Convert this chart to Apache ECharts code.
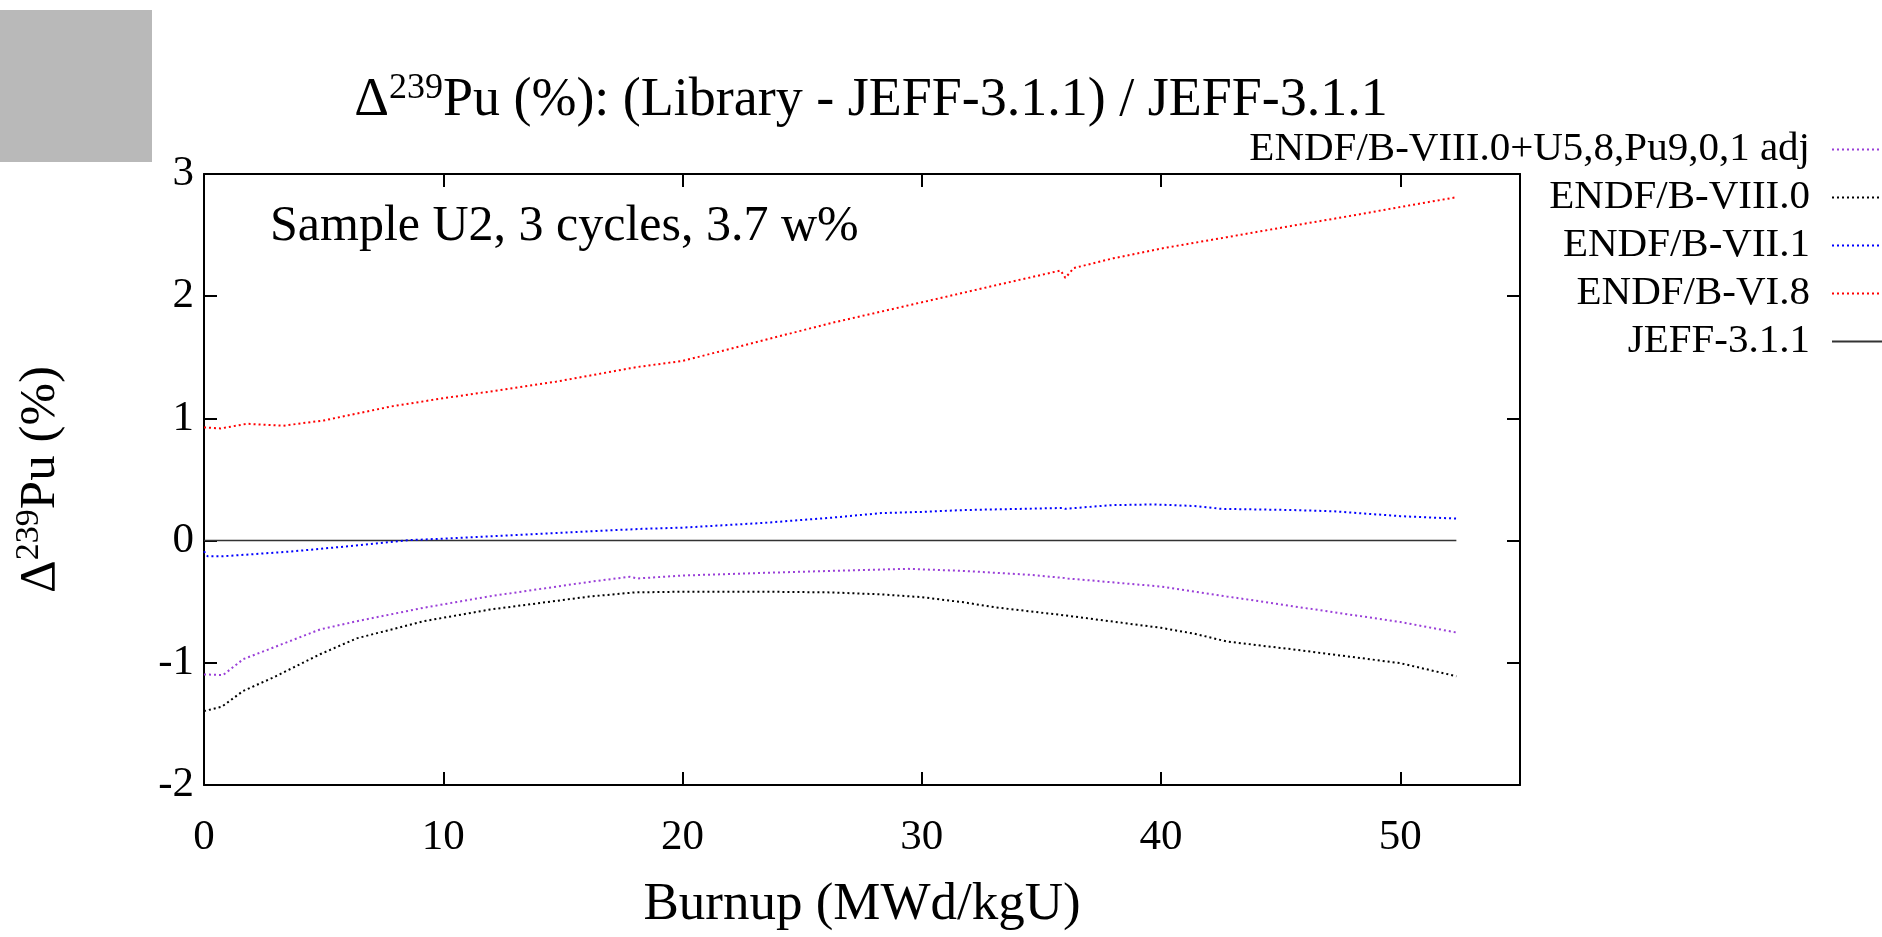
<!DOCTYPE html>
<html>
<head>
<meta charset="utf-8">
<script src="https://cdn.jsdelivr.net/npm/echarts@6/dist/echarts.min.js"></script>
<style>
html,body{margin:0;padding:0;background:#fff;}
#c{width:1882px;height:937px;}
</style>
</head>
<body>
<div id="c"></div>
<script>
// ---- data ----
const seriesNames = ['ENDF/B-VIII.0+U5,8,Pu9,0,1 adj', 'ENDF/B-VIII.0', 'ENDF/B-VII.1', 'ENDF/B-VI.8', 'JEFF-3.1.1'];

const xPurple = [0, 0.8, 1.64, 2.9, 4.85, 6.38, 9.17, 11.96, 16.1, 17.8, 18.1, 20, 23.4, 26.2, 29.4, 31.75, 34.5, 35.9, 36.1, 40, 42.75, 45.5, 50, 52.34];
const yPurple = [-1.095, -1.10, -0.97, -0.875, -0.727, -0.66, -0.55, -0.455, -0.338, -0.296, -0.31, -0.286, -0.264, -0.248, -0.231, -0.248, -0.28, -0.305, -0.31, -0.376, -0.457, -0.537, -0.666, -0.752];

const xBlack = [0, 0.74, 1.64, 2.9, 4.85, 6.38, 9.17, 11.96, 16.1, 18, 20, 23.4, 26.2, 28.3, 30, 31.75, 33.1, 35.9, 40, 41.4, 42.75, 45.5, 50, 52.34];
const yBlack = [-1.395, -1.36, -1.23, -1.12, -0.93, -0.80, -0.66, -0.564, -0.458, -0.424, -0.418, -0.418, -0.424, -0.44, -0.463, -0.505, -0.547, -0.61, -0.714, -0.762, -0.826, -0.89, -1.003, -1.11];

const xBlue = [0, 0.15, 0.8, 3.6, 5.7, 8.5, 10, 12, 16.1, 18.3, 20, 23.4, 26.2, 28.3, 30, 31.75, 35.9, 36.0, 37.9, 39.7, 41.4, 42.5, 45.5, 47.2, 50, 52.34];
const yBlue = [-0.087, -0.128, -0.128, -0.09, -0.052, 0.003, 0.016, 0.035, 0.076, 0.096, 0.106, 0.145, 0.187, 0.225, 0.235, 0.25, 0.267, 0.26, 0.29, 0.296, 0.283, 0.26, 0.25, 0.24, 0.20, 0.18];

const xRed = [0, 0.7, 1.8, 3.3, 5.0, 7.8, 10.0, 12.5, 14.7, 17.8, 18.1, 20, 23.4, 26.2, 30, 33.1, 35.8, 36.0, 36.35, 38, 40, 42.75, 45.5, 48, 50, 52.34];
const yRed = [0.926, 0.918, 0.956, 0.94, 0.983, 1.097, 1.165, 1.235, 1.30, 1.41, 1.42, 1.47, 1.64, 1.78, 1.95, 2.09, 2.21, 2.15, 2.23, 2.31, 2.39, 2.483, 2.577, 2.66, 2.73, 2.81];

const xJeff = [0, 52.34];
const yJeff = [0, 0];

const xTicks = [0, 10, 20, 30, 40, 50];
const yTicks = [-2, -1, 0, 1, 2, 3];

// ---- chart ----
const FONT = 'Liberation Serif';
const pair = (xs, ys) => xs.map((x, i) => [x, ys[i]]);
const chart = echarts.init(document.getElementById('c'), null, {renderer: 'canvas'});

const dotted = [2, 3];
function dotSeries(name, xs, ys, color) {
  return {
    name: name, type: 'line', xAxisIndex: 0, yAxisIndex: 0,
    data: pair(xs, ys), symbol: 'none', showSymbol: false, smooth: false,
    lineStyle: {color: color, width: 2, type: dotted},
    itemStyle: {color: color},
    animation: false, z: 3
  };
}

const axisCommon = {
  type: 'value',
  axisLine: {show: true, onZero: false, lineStyle: {color: '#000', width: 2}},
  axisTick: {show: true, inside: true, length: 13, lineStyle: {color: '#000', width: 2}},
  splitLine: {show: false},
  minorTick: {show: false}
};

const option = {
  backgroundColor: '#fff',
  animation: false,
  title: {
    text: '{d|Δ}{s|239}{d|Pu (%): (Library - JEFF-3.1.1) / JEFF-3.1.1}',
    left: 866, top: 66, textAlign: 'center',
    textStyle: {
      fontWeight: 'normal',
      rich: {
        d: {fontFamily: FONT, fontSize: 54, fontWeight: 'normal', color: '#000', lineHeight: 60},
        s: {fontFamily: FONT, fontSize: 36, fontWeight: 'normal', color: '#000', verticalAlign: 'top', lineHeight: 60}
      }
    }
  },
  legend: {
    orient: 'vertical', align: 'right',
    right: -18, top: 124,
    itemWidth: 62, itemHeight: 10, itemGap: 7,
    data: seriesNames,
    itemStyle: {opacity: 0},
    textStyle: {fontFamily: FONT, fontSize: 41, color: '#000', padding: [0, 17, 0, 0], lineHeight: 40},
    selectedMode: false
  },
  grid: {left: 204, right: 362, top: 174, bottom: 151, show: false, containLabel: false},
  xAxis: [
    Object.assign({}, axisCommon, {
      position: 'bottom', min: 0, max: 55, interval: 10,
      axisLabel: {show: true, fontFamily: FONT, fontSize: 43, color: '#000', margin: 31, showMaxLabel: false,
        formatter: v => (xTicks.indexOf(v) >= 0 ? String(v) : '')},
      name: 'Burnup (MWd/kgU)', nameLocation: 'middle', nameGap: 94,
      nameTextStyle: {fontFamily: FONT, fontSize: 53, color: '#000'}
    }),
    Object.assign({}, axisCommon, {
      position: 'top', min: 0, max: 55, interval: 10,
      axisLabel: {show: false}
    })
  ],
  yAxis: [
    Object.assign({}, axisCommon, {
      position: 'left', min: -2, max: 3, interval: 1,
      axisLabel: {show: true, fontFamily: FONT, fontSize: 43, color: '#000', margin: 10,
        formatter: v => (yTicks.indexOf(v) >= 0 ? String(v) : '')},
      name: '{d|Δ}{s|239}{d|Pu (%)}', nameLocation: 'middle', nameGap: 134, nameRotate: 90,
      nameTextStyle: {
        rich: {
          d: {fontFamily: FONT, fontSize: 51, color: '#000', lineHeight: 58},
          s: {fontFamily: FONT, fontSize: 34, color: '#000', verticalAlign: 'top', lineHeight: 58}
        }
      }
    }),
    Object.assign({}, axisCommon, {
      position: 'right', min: -2, max: 3, interval: 1,
      axisLabel: {show: false}
    })
  ],
  graphic: [
    {type: 'rect', left: 0, top: 10, shape: {width: 152, height: 152}, style: {fill: '#b9b9b9'}, z: 10},
    {type: 'text', left: 270, top: 202, style: {text: 'Sample U2, 3 cycles, 3.7 w%', font: '50px "Liberation Serif"', fill: '#000'}, z: 10}
  ],
  series: [
    dotSeries(seriesNames[0], xPurple, yPurple, '#9a3fd8'),
    dotSeries(seriesNames[1], xBlack, yBlack, '#000000'),
    dotSeries(seriesNames[2], xBlue, yBlue, '#0000ff'),
    dotSeries(seriesNames[3], xRed, yRed, '#ff0000'),
    {
      name: seriesNames[4], type: 'line', data: pair(xJeff, yJeff), symbol: 'none', showSymbol: false,
      lineStyle: {color: '#333', width: 1.5, type: 'solid'}, itemStyle: {color: '#333'}, z: 2
    }
  ]
};
chart.setOption(option);
</script>
</body>
</html>
